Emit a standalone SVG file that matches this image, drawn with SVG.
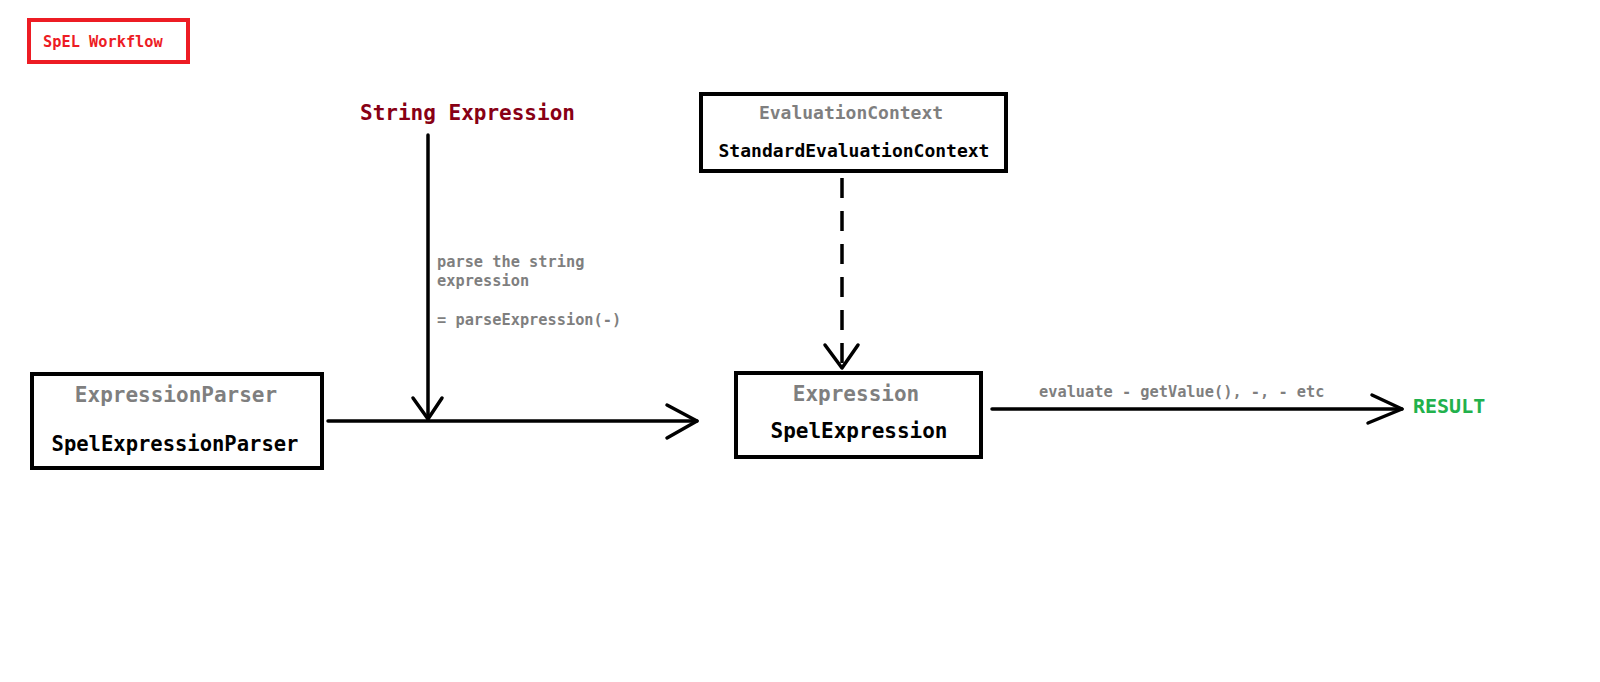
<svg xmlns="http://www.w3.org/2000/svg" width="1600" height="682" viewBox="0 0 1600 682">
<style>
text{font-family:"DejaVu Sans Mono","Liberation Mono",monospace;font-weight:bold}
.box{fill:#fff;stroke:#000;stroke-width:4}
.gray{fill:#7f7f7f}
.blk{fill:#000}
.lbl{fill:#7f7f7f;font-size:15.3px}
.line{fill:none;stroke:#000;stroke-width:3.5;stroke-linecap:round;stroke-linejoin:round}
.dash{stroke-dasharray:20 13;stroke-linecap:butt}
</style>
<rect width="1600" height="682" fill="#fff"/>
<g id="title">
<rect x="29" y="20" width="159" height="42" fill="#fff" stroke="#ed1c24" stroke-width="4"/>
<text x="43" y="47" font-size="15.3" fill="#ed1c24">SpEL Workflow</text>
</g>
<g id="string-expression">
<text x="360" y="120" font-size="21" fill="#880015">String Expression</text>
</g>
<g id="evaluation-context">
<rect class="box" x="701" y="94" width="305" height="77"/>
<text class="gray" x="851" y="119" font-size="18" text-anchor="middle" font-weight="normal">EvaluationContext</text>
<text class="blk" x="854" y="157" font-size="18" text-anchor="middle">StandardEvaluationContext</text>
</g>
<g id="expression-parser">
<rect class="box" x="32" y="374" width="290" height="94"/>
<text class="gray" x="176" y="402" font-size="21" text-anchor="middle">ExpressionParser</text>
<text class="blk" x="175" y="451" font-size="20.5" text-anchor="middle">SpelExpressionParser</text>
</g>
<g id="expression">
<rect class="box" x="736" y="373" width="245" height="84"/>
<text class="gray" x="856" y="401" font-size="21" text-anchor="middle">Expression</text>
<text class="blk" x="859" y="438" font-size="21" text-anchor="middle">SpelExpression</text>
</g>
<g id="result">
<text x="1413" y="413" font-size="20" fill="#22b14c">RESULT</text>
</g>
<g id="connectors">
<line class="line" x1="428" y1="135" x2="428" y2="419"/>
<polyline class="line" points="413,398 428,419 442,398"/>
<text class="lbl" x="437" y="267">parse the string</text>
<text class="lbl" x="437" y="286">expression</text>
<text class="lbl" x="437" y="325">= parseExpression(-)</text>
<line class="line" x1="328" y1="421" x2="697" y2="421"/>
<polyline class="line" points="667,405 697,421 667,438"/>
<line class="line dash" x1="842" y1="178" x2="842" y2="366"/>
<polyline class="line" points="825,345 842,368 858,345"/>
<line class="line" x1="992" y1="409" x2="1402" y2="409"/>
<polyline class="line" points="1372,395 1402,409 1368,423"/>
<text class="lbl" x="1039" y="397">evaluate - getValue(), -, - etc</text>
</g>
</svg>
